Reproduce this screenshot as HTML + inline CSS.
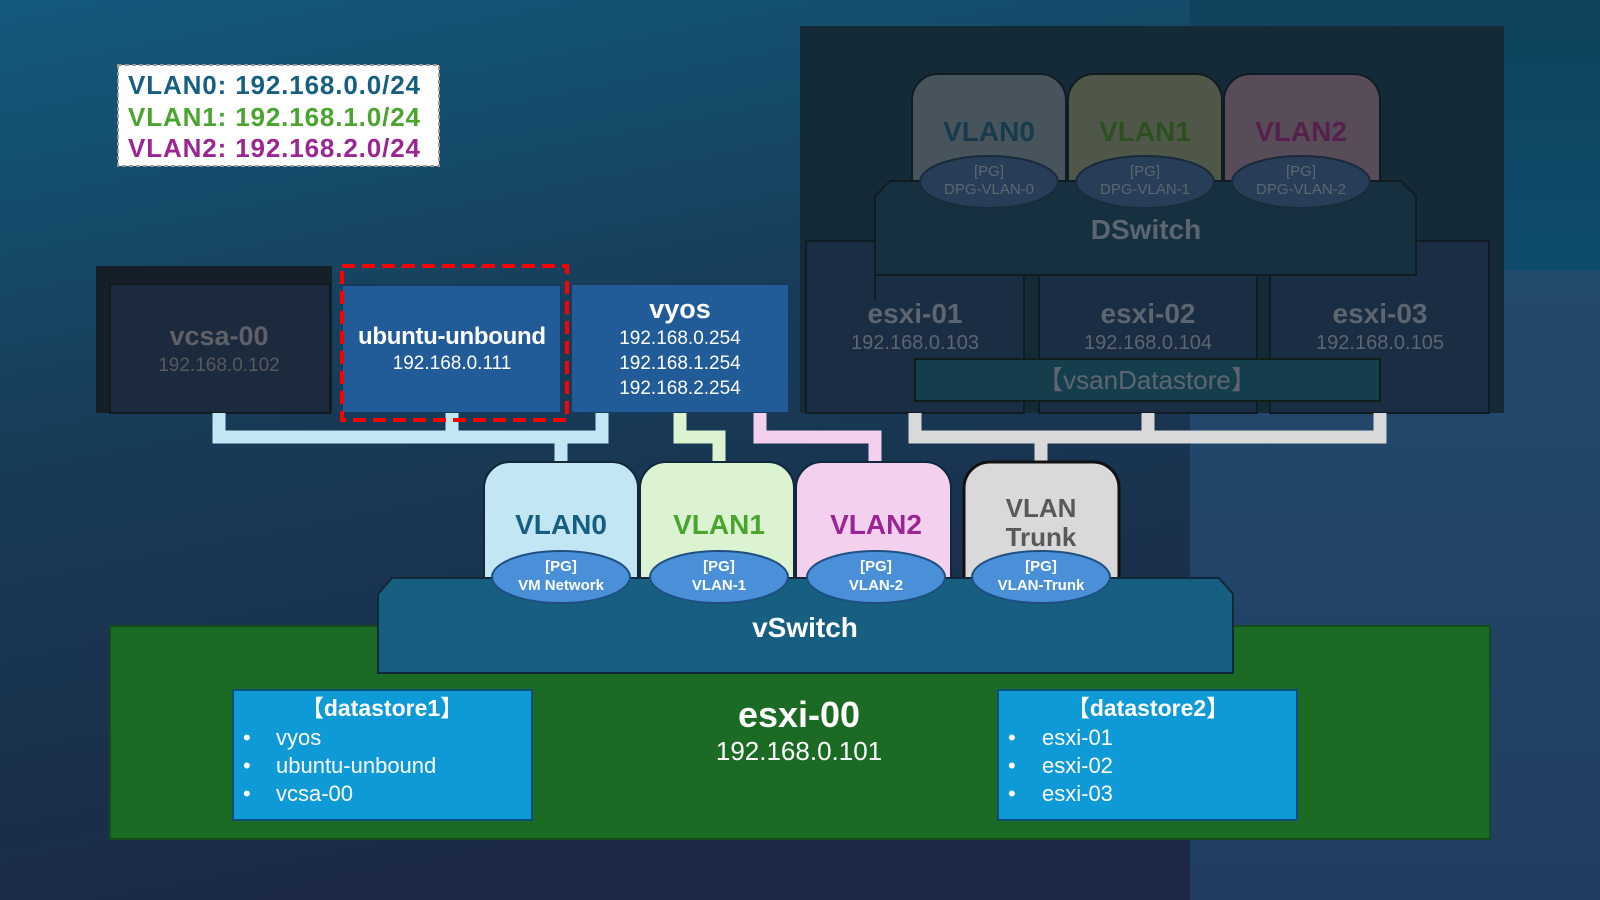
<!DOCTYPE html>
<html><head><meta charset="utf-8"><style>
html,body{margin:0;padding:0;width:1600px;height:900px;overflow:hidden}
svg{display:block}
text{font-family:"Liberation Sans Narrow","Liberation Sans","Noto Sans CJK JP",sans-serif}
</style></head><body>
<svg width="1600" height="900" viewBox="0 0 1600 900" xmlns="http://www.w3.org/2000/svg">
<defs>
<linearGradient id="bg" x1="0" y1="0" x2="0.35" y2="1">
<stop offset="0" stop-color="#135a7c"/><stop offset="0.45" stop-color="#173c58"/><stop offset="1" stop-color="#1c2844"/>
</linearGradient>
<linearGradient id="bgr" x1="0" y1="0" x2="0" y2="1">
<stop offset="0" stop-color="#0f425c"/><stop offset="0.3" stop-color="#0f4c6c"/><stop offset="0.3" stop-color="#224a6d"/><stop offset="1" stop-color="#213e62"/>
</linearGradient>
</defs>
<rect width="1600" height="900" fill="url(#bg)"/>
<rect x="1190" y="0" width="410" height="900" fill="url(#bgr)"/>

<!-- legend -->
<rect x="118" y="65" width="321" height="101" fill="#fff" stroke="#999" stroke-width="2" stroke-dasharray="4,3"/>
<text x="128" y="94" font-size="26" font-weight="bold" fill="#165f80" textLength="292">VLAN0: 192.168.0.0/24</text>
<text x="128" y="126" font-size="26" font-weight="bold" fill="#4aa52e" textLength="292">VLAN1: 192.168.1.0/24</text>
<text x="128" y="157" font-size="26" font-weight="bold" fill="#9b2592" textLength="292">VLAN2: 192.168.2.0/24</text>

<!-- dark panel right -->
<rect x="800" y="26" width="704" height="387" fill="#152a37"/>
<g stroke="#101c22" stroke-width="2">
<rect x="806" y="241" width="218" height="172" fill="#1b2d42"/>
<rect x="1039" y="241" width="218" height="172" fill="#1b2d42"/>
<rect x="1270" y="241" width="219" height="172" fill="#1b2d42"/>
</g>
<g stroke="#101c22" stroke-width="2">
<path d="M912 200 V100 a26 26 0 0 1 26 -26 H1040 a26 26 0 0 1 26 26 V200 Z" fill="#48545b"/>
<path d="M1068 200 V100 a26 26 0 0 1 26 -26 H1196 a26 26 0 0 1 26 26 V200 Z" fill="#4f5848"/>
<path d="M1224 200 V100 a26 26 0 0 1 26 -26 H1354 a26 26 0 0 1 26 26 V200 Z" fill="#574c58"/>
<path d="M875 300 V196 L890 181 H1401 L1416 196 V275 H875 Z" fill="#16303f"/>
</g>
<g fill="#273d58" stroke="#1a2a3a" stroke-width="2">
<ellipse cx="989" cy="182" rx="69" ry="26"/>
<ellipse cx="1145" cy="182" rx="69" ry="26"/>
<ellipse cx="1301" cy="182" rx="69" ry="26"/>
</g>
<g text-anchor="middle" font-weight="bold">
<text x="989" y="141" font-size="28" fill="#183a4c">VLAN0</text>
<text x="1145" y="141" font-size="28" fill="#2d5022">VLAN1</text>
<text x="1301" y="141" font-size="28" fill="#55204c">VLAN2</text>
</g>
<g text-anchor="middle" font-size="15" fill="#5d6670">
<text x="989" y="176">[PG]</text><text x="989" y="194">DPG-VLAN-0</text>
<text x="1145" y="176">[PG]</text><text x="1145" y="194">DPG-VLAN-1</text>
<text x="1301" y="176">[PG]</text><text x="1301" y="194">DPG-VLAN-2</text>
</g>
<text x="1146" y="239" font-size="28" font-weight="bold" fill="#5d6670" text-anchor="middle">DSwitch</text>
<g text-anchor="middle" fill="#5d6670">
<text x="915" y="323" font-size="28" font-weight="bold">esxi-01</text>
<text x="915" y="349" font-size="20">192.168.0.103</text>
<text x="1148" y="323" font-size="28" font-weight="bold">esxi-02</text>
<text x="1148" y="349" font-size="20">192.168.0.104</text>
<text x="1380" y="323" font-size="28" font-weight="bold">esxi-03</text>
<text x="1380" y="349" font-size="20">192.168.0.105</text>
</g>
<rect x="915" y="359" width="465" height="42" fill="#153e4d" stroke="#101c18" stroke-width="2"/>
<text x="1147" y="389" font-size="26" fill="#5d6670" text-anchor="middle">【vsanDatastore】</text>

<g fill="none" stroke="#d9d9d9" stroke-width="13">
<path d="M915 413 V437 H1380 V413"/><path d="M1148 413 V437"/><path d="M1041 437 V462"/>
</g>

<!-- left VMs -->
<rect x="96" y="266" width="236" height="147" fill="#151f28"/>
<rect x="110" y="284" width="220" height="129" fill="#1b2b3d" stroke="#121a20" stroke-width="2"/>
<text x="219" y="345" font-size="27" font-weight="bold" fill="#5f6166" text-anchor="middle">vcsa-00</text>
<text x="219" y="371" font-size="19" fill="#56595e" text-anchor="middle">192.168.0.102</text>
<rect x="342" y="285" width="219" height="128" fill="#215c98" stroke="#173a5a" stroke-width="2"/>
<text x="452" y="344" font-size="24" font-weight="bold" fill="#fff" text-anchor="middle" textLength="188">ubuntu-unbound</text>
<text x="452" y="369" font-size="19" fill="#fff" text-anchor="middle">192.168.0.111</text>
<rect x="571" y="284" width="218" height="129" fill="#215c98" stroke="#173a5a" stroke-width="2"/>
<text x="680" y="318" font-size="27" font-weight="bold" fill="#fff" text-anchor="middle">vyos</text>
<text x="680" y="344" font-size="19" fill="#fff" text-anchor="middle">192.168.0.254</text>
<text x="680" y="369" font-size="19" fill="#fff" text-anchor="middle">192.168.1.254</text>
<text x="680" y="394" font-size="19" fill="#fff" text-anchor="middle">192.168.2.254</text>

<g fill="none" stroke-width="13">
<path d="M219 413 V437 H602 V413 M452 413 V437 M561 437 V464" stroke="#c3e6f5"/>
<path d="M680 413 V437 H719 V464" stroke="#dcf3d2"/>
<path d="M760 413 V437 H875 V464" stroke="#f2d0ee"/>
</g>
<rect x="342" y="266" width="225" height="154" fill="none" stroke="#ff0000" stroke-width="4" stroke-dasharray="13,7"/>

<!-- esxi-00 -->
<rect x="110" y="626" width="1380" height="213" fill="#1b6b25" stroke="#144a1c" stroke-width="2"/>
<g stroke="#10283a" stroke-width="2">
<path d="M484 597 V488 a26 26 0 0 1 26 -26 H612 a26 26 0 0 1 26 26 V597 Z" fill="#c3e6f5"/>
<path d="M640 597 V488 a26 26 0 0 1 26 -26 H768 a26 26 0 0 1 26 26 V597 Z" fill="#dcf3d2"/>
<path d="M796 597 V488 a26 26 0 0 1 26 -26 H925 a26 26 0 0 1 26 26 V597 Z" fill="#f2d0ee"/>
<path d="M964 597 V488 a26 26 0 0 1 26 -26 H1093 a26 26 0 0 1 26 26 V597 Z" fill="#d9d9d9" stroke="#111" stroke-width="3"/>
<path d="M378 673 V594 L392 578 H1219 L1233 594 V673 Z" fill="#165f80"/>
</g>
<g fill="#4a90d9" stroke="#1f4f80" stroke-width="2">
<ellipse cx="561" cy="577" rx="69" ry="26"/>
<ellipse cx="719" cy="577" rx="69" ry="26"/>
<ellipse cx="876" cy="577" rx="69" ry="26"/>
<ellipse cx="1041" cy="577" rx="69" ry="26"/>
</g>
<g text-anchor="middle" font-weight="bold" font-size="28">
<text x="561" y="534" fill="#165f80">VLAN0</text>
<text x="719" y="534" fill="#4aa52e">VLAN1</text>
<text x="876" y="534" fill="#9b2592">VLAN2</text>
<text x="1041" y="517" fill="#595959" font-size="26">VLAN</text>
<text x="1041" y="546" fill="#595959" font-size="26">Trunk</text>
</g>
<g text-anchor="middle" font-size="15" fill="#fff" font-weight="bold">
<text x="561" y="571">[PG]</text><text x="561" y="590">VM Network</text>
<text x="719" y="571">[PG]</text><text x="719" y="590">VLAN-1</text>
<text x="876" y="571">[PG]</text><text x="876" y="590">VLAN-2</text>
<text x="1041" y="571">[PG]</text><text x="1041" y="590">VLAN-Trunk</text>
</g>
<text x="805" y="637" font-size="28" font-weight="bold" fill="#fff" text-anchor="middle">vSwitch</text>

<text x="799" y="727" font-size="36" font-weight="bold" fill="#fff" text-anchor="middle">esxi-00</text>
<text x="799" y="760" font-size="26" fill="#fff" text-anchor="middle">192.168.0.101</text>

<rect x="233" y="690" width="299" height="130" fill="#0e9ad6" stroke="#0d4e7a" stroke-width="2"/>
<text x="382" y="716" font-size="23" font-weight="bold" fill="#fff" text-anchor="middle">【datastore1】</text>
<g font-size="22" fill="#fff">
<text x="243" y="745">•</text><text x="276" y="745">vyos</text>
<text x="243" y="773">•</text><text x="276" y="773">ubuntu-unbound</text>
<text x="243" y="801">•</text><text x="276" y="801">vcsa-00</text>
</g>
<rect x="998" y="690" width="299" height="130" fill="#0e9ad6" stroke="#0d4e7a" stroke-width="2"/>
<text x="1148" y="716" font-size="23" font-weight="bold" fill="#fff" text-anchor="middle">【datastore2】</text>
<g font-size="22" fill="#fff">
<text x="1008" y="745">•</text><text x="1042" y="745">esxi-01</text>
<text x="1008" y="773">•</text><text x="1042" y="773">esxi-02</text>
<text x="1008" y="801">•</text><text x="1042" y="801">esxi-03</text>
</g>
</svg>
</body></html>
